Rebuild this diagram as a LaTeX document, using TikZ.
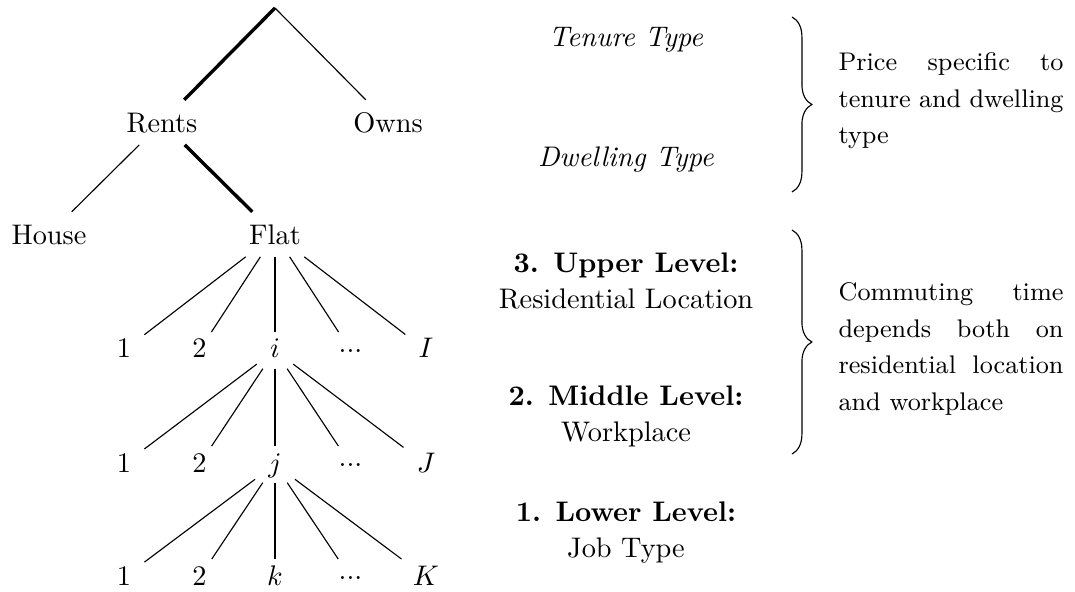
\documentclass[tikz,border=0pt]{standalone}
\usetikzlibrary{decorations.pathreplacing}
\setlength{\parindent}{0pt}

\begin{document}
\begin{tikzpicture}[x=0.353pt, y=-0.353pt,
    font=\fontsize{10}{12.7}\selectfont,
    upper/.style={anchor=base, text height=1.9ex, text depth=.15ex},
    leaf/.style={anchor=base, text height=1.5ex, text depth=.25ex, inner xsep=4.5pt, inner ysep=2.5pt},
    chosen/.style={line width=1.2pt},
    levellbl/.style={align=center},
    note/.style={anchor=west, inner sep=0pt, text width=79.4pt, align=justify,
      font=\fontsize{9}{12.9}\selectfont,
      execute at begin node={\hyphenpenalty=10000}},
    curly/.style={decorate, decoration={brace, amplitude=7pt}}]
        \def\xc{275}
        \def\dx{75.5}
        \def\yI{358}
        \def\yJ{472}
        \def\yK{585}
        \def\ddd{\raisebox{2pt}{...}}

        \useasboundingbox (0,0) rectangle (1075,592);

        % Tenure and dwelling
        \coordinate (root) at (\xc,8);
        \node[upper] (rents) at (162,133) {Rents};
        \node[upper] (owns) at (388,133) {Owns};
        \node[upper] (house) at (49,245) {House};
        \node[upper] (flat) at (\xc,245) {Flat};

        \draw[chosen] (root) -- (rents);
        \draw (root) -- (owns);
        \draw (rents) -- (house);
        \draw[chosen] (rents) -- (flat);

        % Residential location, workplace, job type
        \node[leaf] (i1) at ({\xc-2*\dx},\yI) {1};
        \node[leaf] (i2) at ({\xc-\dx},\yI) {2};
        \node[leaf] (ii) at (\xc,\yI) {$i$};
        \node[leaf] (idots) at ({\xc+\dx},\yI) {\ddd};
        \node[leaf] (iI) at ({\xc+2*\dx},\yI) {$I$};

        \node[leaf] (j1) at ({\xc-2*\dx},\yJ) {1};
        \node[leaf] (j2) at ({\xc-\dx},\yJ) {2};
        \node[leaf] (jj) at (\xc,\yJ) {$j$};
        \node[leaf] (jdots) at ({\xc+\dx},\yJ) {\ddd};
        \node[leaf] (jJ) at ({\xc+2*\dx},\yJ) {$J$};

        \node[leaf] (k1) at ({\xc-2*\dx},\yK) {1};
        \node[leaf] (k2) at ({\xc-\dx},\yK) {2};
        \node[leaf] (kk) at (\xc,\yK) {$k$};
        \node[leaf] (kdots) at ({\xc+\dx},\yK) {\ddd};
        \node[leaf] (kK) at ({\xc+2*\dx},\yK) {$K$};

        \foreach \c in {i1,i2,ii,idots,iI} \draw (flat) -- (\c);
        \foreach \c in {j1,j2,jj,jdots,jJ} \draw (ii) -- (\c);
        \foreach \c in {k1,k2,kk,kdots,kK} \draw (jj) -- (\c);

        % Level labels
        \node[anchor=base] (tenure) at (626,47) {\textit{Tenure Type}};
        \node[anchor=base] (dwelling) at (626,167) {\textit{Dwelling Type}};
        \node[levellbl] (upperlvl) at (626,281) {\textbf{3. Upper Level:}\\Residential Location};
        \node[levellbl] (midlvl) at (626,416) {\textbf{2. Middle Level:}\\Workplace};
        \node[levellbl] (lowlvl) at (626,533) {\textbf{1. Lower Level:}\\Job Type};

        % Braces and notes
        \draw[curly] (792,17) -- (792,192);
        \draw[curly] (792,230) -- (792,454);
        \node[note] (pricenote) at (838,101) {Price specific to tenure and dwelling type};
        \node[note] (commnote) at (838,349) {Commuting time depends both on residential location and workplace};
      \end{tikzpicture}
\end{document}
